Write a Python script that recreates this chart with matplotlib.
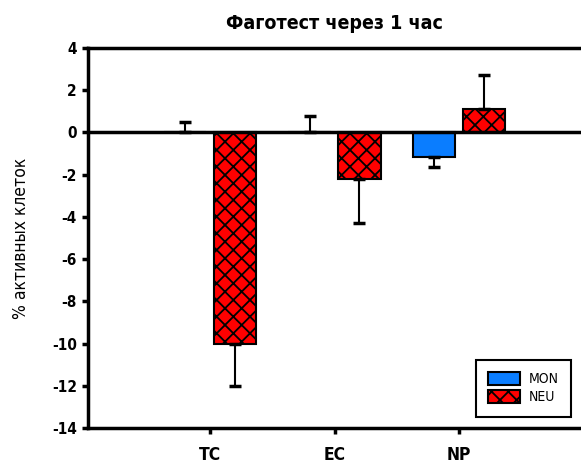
import numpy as np
import matplotlib.pyplot as plt
from matplotlib.patches import Patch

# data
categories = ['TC', 'EC', 'NP']
mon_values = [0.0, 0.0, -1.15]
mon_errors = [0.5, 0.8, 0.48]
neu_values = [-10.0, -2.2, 1.1]
neu_errors = [2.0, 2.1, 1.6]
y_ticks = [4, 2, 0, -2, -4, -6, -8, -10, -12, -14]

narrow = dict(family=['DejaVu Sans'], stretch='condensed')
plt.rcParams['hatch.linewidth'] = 1.3

fig = plt.figure(figsize=(5.81, 4.65), dpi=100)
ax = fig.add_axes([0.1515, 0.0796, 0.8485, 0.8172])

x = np.arange(1, len(categories) + 1)
width = 0.34
offset = 0.2

# error bars point away from zero
mon_err = [[e if v < 0 else 0 for v, e in zip(mon_values, mon_errors)],
           [e if v >= 0 else 0 for v, e in zip(mon_values, mon_errors)]]
neu_err = [[e if v < 0 else 0 for v, e in zip(neu_values, neu_errors)],
           [e if v >= 0 else 0 for v, e in zip(neu_values, neu_errors)]]

ax.bar(x - offset, mon_values, width, color='#0a7dff', edgecolor='black',
       linewidth=1.5, label='MON', zorder=2)
ax.bar(x + offset, neu_values, width, color='#ff0000', edgecolor='black',
       linewidth=1.5, hatch='xx', label='NEU', zorder=2)
ax.errorbar(x - offset, mon_values, yerr=mon_err, fmt='none', ecolor='black',
            elinewidth=1.5, capsize=4, capthick=2.5, zorder=3)
ax.errorbar(x + offset, neu_values, yerr=neu_err, fmt='none', ecolor='black',
            elinewidth=1.5, capsize=4, capthick=2.5, zorder=3)

ax.axhline(0, color='black', linewidth=2.5, zorder=4)

ax.set_ylim(-14, 4)
ax.set_xlim(0.02, 3.98)
ax.set_yticks(y_ticks)
ax.set_yticklabels([str(t) for t in y_ticks], fontweight='bold', fontsize=11,
                   **narrow)
ax.set_xticks(x)
ax.set_xticklabels(categories, fontweight='bold', fontsize=12.5, **narrow)
ax.tick_params(axis='y', direction='out', length=4, width=2.5, pad=4)
ax.tick_params(axis='x', direction='out', length=4, width=2.5, pad=9)

for side in ['left', 'top', 'bottom']:
    ax.spines[side].set_linewidth(2.5)
ax.spines['right'].set_visible(False)

ax.set_ylabel('% активных клеток', fontsize=12.5, labelpad=16, **narrow)
ax.set_title('Фаготест через 1 час', fontsize=14, fontweight='bold',
             pad=14, **narrow)

handles = [Patch(facecolor='#0a7dff', edgecolor='black', linewidth=1.5, label='MON'),
           Patch(facecolor='#ff0000', edgecolor='black', linewidth=1.5, hatch='xx', label='NEU')]
leg = ax.legend(handles=handles, loc='lower right', bbox_to_anchor=(0.98, 0.029),
                borderaxespad=0, frameon=True, fancybox=False, edgecolor='black',
                framealpha=1, handlelength=2.3, handleheight=1.0, handletextpad=0.6,
                borderpad=0.9, labelspacing=0.3,
                prop={'family': 'DejaVu Sans', 'stretch': 'condensed', 'size': 10})
leg.get_frame().set_linewidth(1.5)

fig.savefig('out.png', dpi=100)
